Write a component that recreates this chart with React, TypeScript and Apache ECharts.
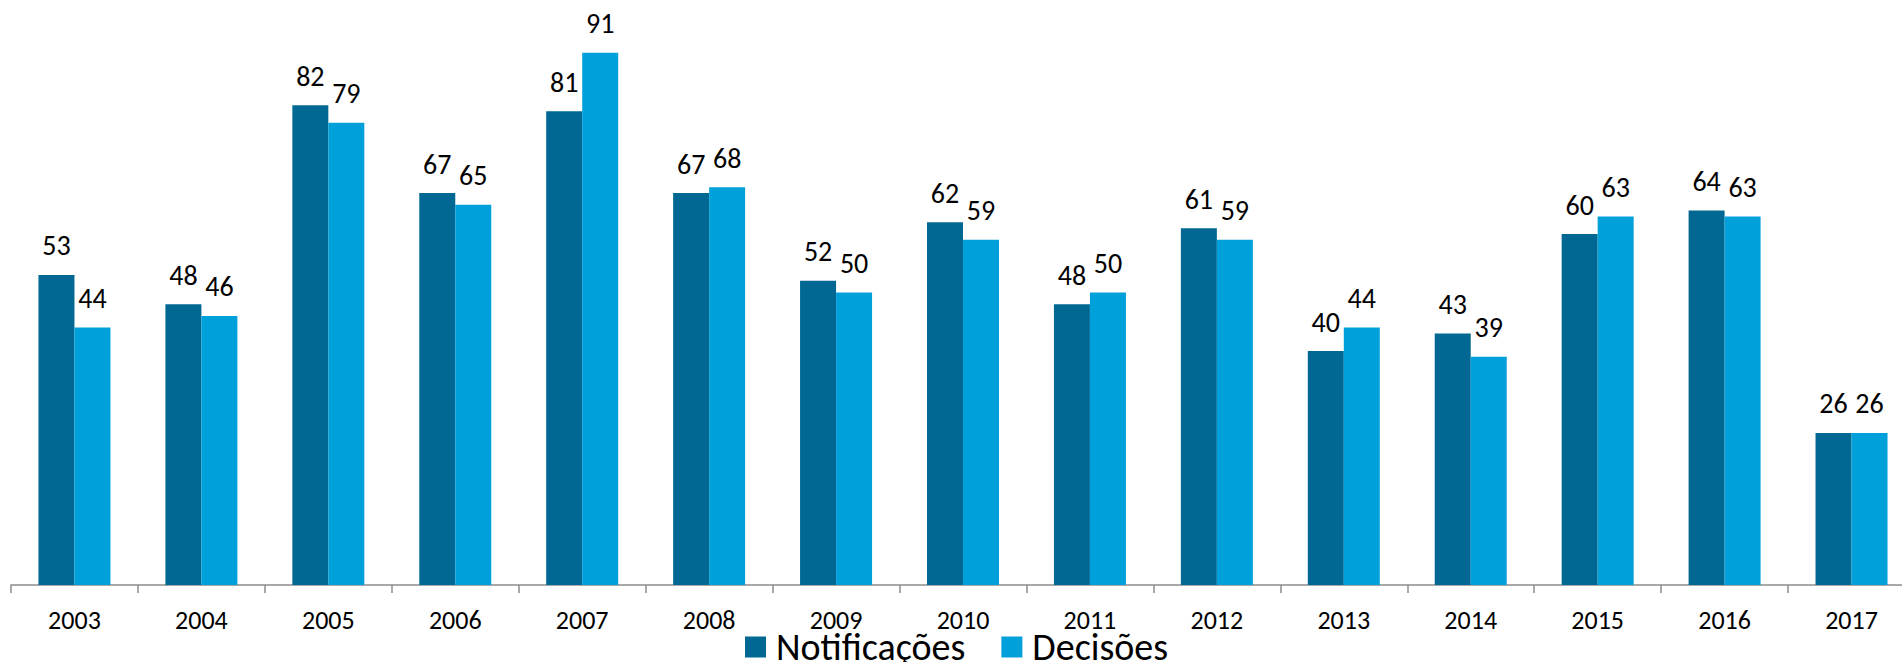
import React, { useEffect, useRef } from "react";
import * as echarts from "echarts";

const years = ["2003", "2004", "2005", "2006", "2007", "2008", "2009", "2010", "2011", "2012", "2013", "2014", "2015", "2016", "2017"];
const notificacoes = [53, 48, 82, 67, 81, 67, 52, 62, 48, 61, 40, 43, 60, 64, 26];
const decisoes = [44, 46, 79, 65, 91, 68, 50, 59, 50, 59, 44, 39, 63, 63, 26];
const seriesNames = ["Notificações", "Decisões"];
const colors = ["#006892", "#00A0DB"];

const FONT = "Carlito, Calibri, 'Open Sans', sans-serif";

export default function App() {
  const ref = useRef<HTMLDivElement>(null);
  useEffect(() => {
    if (!ref.current) return;
    const chart = echarts.init(ref.current, null, { renderer: "svg" });
    const label = {
      show: true,
      position: "top",
      distance: 15,
      color: "#000",
      fontFamily: FONT,
      fontSize: 28,
    };
    chart.setOption({
      animation: false,
      backgroundColor: "#fff",
      grid: { left: 11, top: 0, width: 1904, height: 585, containLabel: false },
      legend: {
        data: seriesNames,
        left: 745,
        top: 628,
        padding: 0,
        icon: "rect",
        itemWidth: 21,
        itemHeight: 21,
        itemGap: 36,
        textStyle: { fontFamily: FONT, fontSize: 38, color: "#000", lineHeight: 38, padding: [0, 0, 0, 5] },
        selectedMode: false,
      },
      xAxis: {
        type: "category",
        data: years,
        boundaryGap: true,
        axisLine: { show: true, lineStyle: { color: "#8c8c8c", width: 1.5 } },
        axisTick: { show: true, alignWithLabel: false, length: 8, lineStyle: { color: "#8c8c8c", width: 1.5 } },
        axisLabel: { color: "#000", fontFamily: FONT, fontSize: 26, margin: 22 },
      },
      yAxis: {
        type: "value",
        min: 0,
        max: 100,
        show: false,
        splitLine: { show: false },
      },
      series: [
        {
          name: seriesNames[0],
          type: "bar",
          data: notificacoes,
          barWidth: 36,
          barGap: "0%",
          itemStyle: { color: colors[0] },
          label,
        },
        {
          name: seriesNames[1],
          type: "bar",
          data: decisoes,
          barWidth: 36,
          barGap: "0%",
          itemStyle: { color: colors[1] },
          label,
        },
      ],
    });
    return () => chart.dispose();
  }, []);
  return (
    <div style={{ position: "absolute", left: 0, top: 0, width: 1902, height: 662, overflow: "hidden", background: "#fff" }}>
      <div ref={ref} style={{ width: 1940, height: 662 }} />
    </div>
  );
}
